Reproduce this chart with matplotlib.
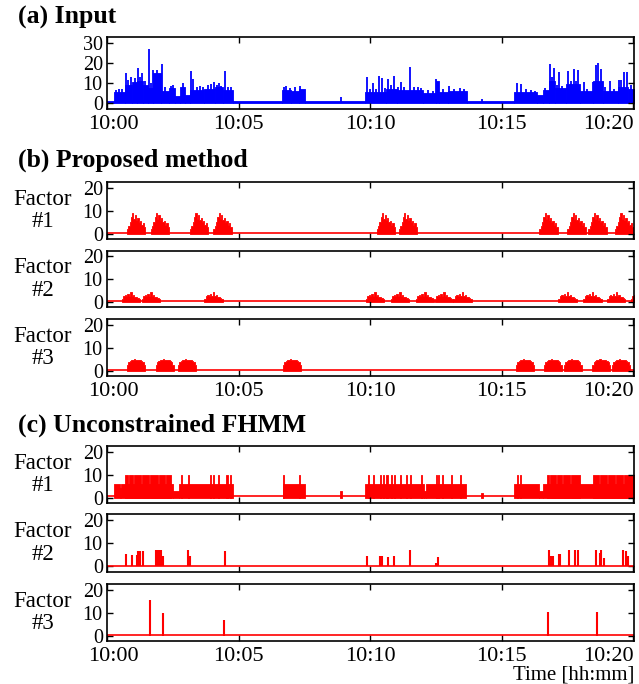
import numpy as np
import matplotlib.pyplot as plt
from matplotlib.transforms import ScaledTranslation

plt.rcParams['font.family'] = ['Liberation Serif', 'DejaVu Serif']

# time axis in minutes after 10:00
tick_min = [0, 5, 10, 15, 20]
tick_lab = ['10:00', '10:05', '10:10', '10:15', '10:20']

# (a) input: envelope (start, end, level) and spikes (time, height)
in_seg = [(0.00, 0.27, 1.0), (0.27, 0.70, 5.5), (0.70, 0.95, 9.0), (0.95, 1.15, 10.5),
          (1.15, 1.35, 11.0), (1.35, 1.55, 9.0), (1.55, 1.75, 7.5), (1.75, 2.05, 15.0),
          (2.05, 2.35, 6.0), (2.35, 2.58, 7.5), (2.58, 2.78, 3.3), (2.78, 2.98, 8.0),
          (2.98, 3.15, 4.0), (3.15, 3.70, 6.5), (3.70, 4.10, 7.0), (4.10, 4.40, 8.0),
          (4.40, 4.80, 6.5), (4.80, 6.65, 1.2), (6.65, 7.00, 6.5), (7.00, 7.30, 6.0),
          (7.30, 7.53, 7.0), (7.53, 9.81, 1.0), (9.81, 10.60, 5.5), (10.60, 11.00, 7.0),
          (11.00, 12.00, 6.5), (12.00, 12.50, 5.0), (12.50, 12.60, 11.0), (12.60, 12.95, 5.5),
          (12.95, 13.66, 6.0), (13.66, 15.47, 1.2), (15.47, 16.35, 5.5), (16.35, 16.55, 3.8),
          (16.55, 16.80, 6.5), (16.80, 17.00, 11.0), (17.00, 17.45, 7.5), (17.45, 17.95, 9.5),
          (17.95, 18.45, 5.8), (18.45, 18.85, 11.0), (18.85, 19.40, 6.0), (19.40, 19.80, 8.0),
          (19.80, 20.10, 7.0)]
in_spk = [(0.33, 6.5), (0.45, 7.0), (0.58, 6.8), (0.71, 15.0), (0.80, 11.5), (0.90, 13.0),
          (1.05, 12.5), (1.19, 17.5), (1.26, 13.0), (1.32, 15.0), (1.45, 11.0), (1.60, 27.0),
          (1.68, 10.0), (1.73, 16.7), (1.90, 16.5), (2.10, 19.5), (2.20, 8.0), (2.45, 8.5),
          (2.52, 9.0), (2.90, 10.0), (3.20, 16.0), (3.28, 12.0), (3.40, 8.0), (3.55, 8.5),
          (3.65, 8.0), (3.85, 9.0), (3.95, 9.5), (4.07, 10.5), (4.18, 9.0), (4.25, 10.0),
          (4.32, 8.5), (4.48, 16.0), (4.60, 8.0), (4.70, 8.0), (6.72, 8.0), (6.80, 8.5),
          (6.95, 7.5), (7.15, 7.8), (7.34, 8.6), (8.88, 2.8), (9.87, 12.8), (10.00, 7.0),
          (10.10, 10.0), (10.22, 7.0), (10.35, 13.7), (10.45, 12.5), (10.55, 7.5), (10.67, 12.2),
          (10.80, 9.0), (10.91, 13.7), (11.05, 8.0), (11.17, 10.3), (11.30, 8.0), (11.51, 18.0),
          (11.65, 8.0), (11.80, 8.0), (11.92, 7.5), (12.20, 6.5), (12.40, 6.0), (12.51, 12.2),
          (12.75, 7.0), (13.00, 8.3), (13.20, 7.0), (13.40, 7.5), (13.55, 7.0), (14.24, 2.0),
          (15.58, 10.0), (15.73, 9.5), (15.90, 7.0), (16.10, 6.5), (16.25, 6.0), (16.65, 7.5),
          (16.81, 19.5), (16.90, 13.0), (16.97, 17.5), (17.08, 9.0), (17.16, 15.3), (17.30, 8.5),
          (17.52, 16.2), (17.62, 11.0), (17.73, 17.0), (17.80, 11.0), (17.88, 16.3), (18.11, 10.3),
          (18.25, 7.0), (18.47, 10.3), (18.58, 19.2), (18.66, 20.0), (18.77, 17.0), (18.92, 8.0),
          (19.10, 10.8), (19.25, 7.0), (19.44, 11.7), (19.52, 11.7), (19.63, 15.5), (19.76, 15.3),
          (19.90, 9.0)]

# (b) proposed method: one burst shape per factor and the burst start times
burst_len = 0.69
b1_shape = [2.0, 3.5, 5.0, 7.5, 9.0, 6.5, 8.0, 6.0, 7.0, 5.0, 5.5, 4.0, 4.5, 3.0]
b2_shape = [1.5, 2.5, 3.0, 2.5, 3.5, 2.8, 4.2, 2.5, 3.0, 2.0, 2.2, 1.8, 1.5]
b3_shape = [2.5, 3.8, 4.4, 4.8, 4.6, 5.0, 4.7, 4.9, 4.6, 4.8, 4.4, 3.8, 2.5]
b1_start = [0.76, 1.66, 3.16, 4.04, 10.25, 11.09, 16.43, 17.49, 18.29, 19.30]
b2_start = [0.56, 1.32, 3.70, 9.83, 10.78, 11.73, 12.45, 13.16, 17.15, 18.10, 19.00, 19.90]
b3_start = [0.76, 1.85, 2.70, 6.68, 15.54, 16.59, 17.35, 18.43, 19.18]

# (c) unconstrained FHMM
c1_body = [(0.28, 0.49, 5.8), (0.49, 0.54, 4.0), (0.54, 2.50, 5.8), (2.50, 2.75, 3.0),
           (2.75, 4.80, 5.8), (6.68, 7.52, 5.8), (8.85, 8.91, 3.0), (9.81, 12.03, 5.8),
           (12.03, 12.10, 3.0), (12.10, 13.64, 5.8), (14.22, 14.27, 2.0), (15.48, 16.40, 5.8),
           (16.40, 16.55, 3.0), (16.55, 20.10, 5.8)]
c1_high = [(0.68, 0.80), (0.82, 1.00), (1.02, 1.30), (1.33, 1.60), (1.62, 1.95), (1.98, 2.20),
           (2.24, 2.42), (2.80, 2.86), (3.06, 3.12), (3.90, 3.96), (4.02, 4.07), (4.22, 4.26),
           (4.53, 4.58), (4.66, 4.70), (6.70, 6.74), (7.30, 7.34), (9.92, 9.97), (10.10, 10.15),
           (10.36, 10.40), (10.48, 10.53), (10.60, 10.66), (10.80, 10.84), (10.89, 10.94),
           (11.12, 11.16), (11.35, 11.39), (11.50, 11.54), (11.94, 11.98), (12.49, 12.53),
           (12.58, 12.62), (12.71, 12.75), (13.06, 13.10), (13.40, 13.44), (15.56, 15.60),
           (15.68, 15.72), (16.70, 16.78), (16.82, 17.05), (17.08, 17.30), (17.33, 17.60),
           (17.63, 17.95), (18.45, 18.70), (18.73, 19.00), (19.03, 19.30), (19.33, 19.60),
           (19.63, 20.10)]
c1_high_level = 9.8
c2_spk = [(0.71, 5.5), (0.94, 4.8), (1.13, 4.8), (1.19, 6.8), (1.25, 6.8), (1.36, 6.8),
          (1.85, 7.0), (1.90, 7.0), (1.95, 7.0), (2.00, 7.0), (2.04, 7.0), (2.12, 4.5),
          (3.07, 7.0), (3.16, 4.5), (4.49, 6.8), (9.87, 4.5), (10.36, 4.5), (10.45, 4.3),
          (10.67, 4.0), (10.91, 4.7), (11.52, 7.2), (12.51, 1.5), (12.57, 4.0), (16.79, 7.0),
          (16.86, 4.5), (16.96, 4.5), (17.16, 5.5), (17.20, 5.5), (17.54, 7.0), (17.76, 7.0),
          (17.88, 7.0), (18.59, 7.0), (18.72, 6.0), (18.78, 7.0), (18.87, 3.5), (19.61, 7.0),
          (19.71, 6.5), (19.78, 4.5)]
c3_spk = [(1.62, 15.5), (2.11, 10.0), (4.46, 6.7), (16.77, 10.3), (18.60, 10.3)]

blue = '#0000ff'
red = '#ff0000'
W, H = 639, 684

fig = plt.figure(figsize=(W / 100, H / 100), dpi=100)


def make_ax(top, bottom, ylim, yticks, xlabels):
    ax = fig.add_axes([107 / W, 1 - bottom / H, 527 / W, (bottom - top) / H])
    ax.set_xlim(0, 20.02)
    ax.set_ylim(*ylim)
    ax.set_yticks(yticks)
    ax.set_xticks(tick_min)
    ax.tick_params(direction='in', top=True, right=True, length=4, width=1, pad=3)
    ax.tick_params(axis='x', labelsize=16, pad=4.5)
    ax.tick_params(axis='y', labelsize=14.5)
    if xlabels:
        ax.set_xticklabels(tick_lab)
        labs = ax.get_xticklabels()
        labs[-1].set_ha('right')
        labs[0].set_transform(labs[0].get_transform()
                              + ScaledTranslation(6 / 100, 0, fig.dpi_scale_trans))
    else:
        ax.set_xticklabels([])
    for sp in ax.spines.values():
        sp.set_linewidth(1.2)
    return ax


def fill_segs(ax, segs, color):
    for s, e, v in segs:
        ax.fill_between([s, e], [v, v], 0, color=color, lw=0.6)


def draw_bursts(ax, starts, shape, color):
    n = len(shape)
    for s in starts:
        edges = s + burst_len * np.arange(n + 1) / n
        ax.fill_between(edges, list(shape) + [shape[-1]], 0, step='post', color=color, lw=0.6)


# (a) input
ax = make_ax(37, 109, (-3, 33), [0, 10, 20, 30], True)
fill_segs(ax, in_seg, blue)
ax.vlines([t for t, h in in_spk], 0, [h for t, h in in_spk], color=blue, lw=1.3)

# (b) proposed method
b_rows = [(182, 239, b1_start, b1_shape), (251, 307, b2_start, b2_shape),
          (319, 376, b3_start, b3_shape)]
for i, (top, bot, starts, shape) in enumerate(b_rows):
    ax = make_ax(top, bot, (-2.2, 22.4), [0, 10, 20], i == 2)
    ax.axhline(0.3, color=red, lw=1.2)
    draw_bursts(ax, starts, shape, red)
    fig.text(43 / W, 1 - (top + bot) / 2 / H, 'Factor\n#%d' % (i + 1), ha='center',
             va='center', fontsize=16.5, linespacing=1.1)

# (c) unconstrained FHMM
ax = make_ax(446, 503, (-2.4, 22.6), [0, 10, 20], False)
ax.axhline(0.7, color=red, lw=1.2)
fill_segs(ax, c1_body, red)
fill_segs(ax, [(s, e, c1_high_level) for s, e in c1_high], red)
fig.text(43 / W, 1 - 474.5 / H, 'Factor\n#1', ha='center', va='center', fontsize=16.5,
         linespacing=1.1)

ax = make_ax(514, 572, (-2.4, 22.6), [0, 10, 20], False)
ax.axhline(0.4, color=red, lw=1.2)
ax.vlines([t for t, h in c2_spk], 0, [h for t, h in c2_spk], color=red, lw=1.5)
fig.text(43 / W, 1 - 543 / H, 'Factor\n#2', ha='center', va='center', fontsize=16.5,
         linespacing=1.1)

ax = make_ax(584, 641, (-2.4, 22.6), [0, 10, 20], True)
ax.axhline(0.3, color=red, lw=1.2)
ax.vlines([t for t, h in c3_spk], 0, [h for t, h in c3_spk], color=red, lw=1.5)
fig.text(43 / W, 1 - 612.5 / H, 'Factor\n#3', ha='center', va='center', fontsize=16.5,
         linespacing=1.1)

# panel titles and axis label
fig.text(18 / W, 1 - 17 / H, '(a) Input', fontsize=18.5, weight='bold', va='center')
fig.text(18 / W, 1 - 160 / H, '(b) Proposed method', fontsize=18.5, weight='bold', va='center')
fig.text(18 / W, 1 - 425 / H, '(c) Unconstrained FHMM', fontsize=18.5, weight='bold', va='center')
fig.text(634 / W, 1 - 675 / H, 'Time [hh:mm]', fontsize=15, ha='right', va='center')

fig.savefig('out.png', dpi=100)
